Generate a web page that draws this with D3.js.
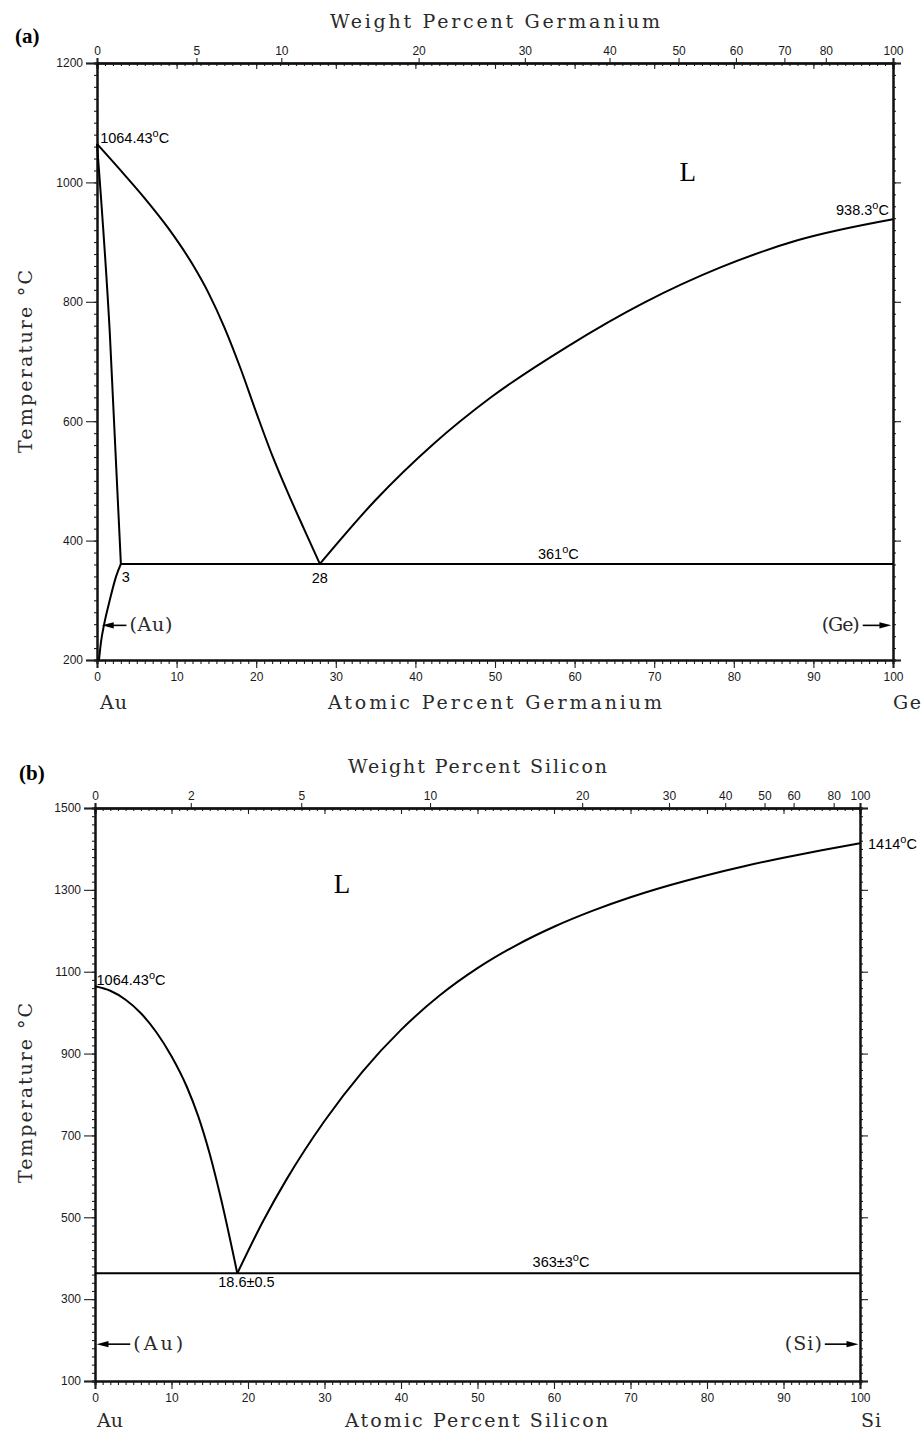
<!DOCTYPE html>
<html>
<head>
<meta charset="utf-8">
<script src="https://cdn.jsdelivr.net/npm/d3@7"></script>
<style>
  body { margin: 0; background: #fff; }
  svg { display: block; }
  .tick text { font-family: "Liberation Sans", Arial, sans-serif; font-size: 12px; fill: #1a1a1a; }
  .title { font-family: "DejaVu Serif", serif; font-size: 19px; fill: #2a2a2a; }
  .note { font-family: "Liberation Sans", Arial, sans-serif; font-size: 14.5px; fill: #000; }
</style>
</head>
<body>
<div id="chart"></div>
<script>
// Atomic masses used to place the weight-percent ticks
const massAu = 196.967, massGe = 72.63, massSi = 28.086;

// Tick labels
const atTicks = [0, 10, 20, 30, 40, 50, 60, 70, 80, 90, 100];
const geWtTicks = [0, 5, 10, 20, 30, 40, 50, 60, 70, 80, 100];
const siWtTicks = [0, 2, 5, 10, 20, 30, 40, 50, 60, 80, 100];
const geTempTicks = [200, 400, 600, 800, 1000, 1200];
const siTempTicks = [100, 300, 500, 700, 900, 1100, 1300, 1500];

// (a) Au-Ge lines: [at.% Ge, °C]
const geLiqAu = [[0, 1064.43], [3, 1019.6], [6, 973.3], [9, 922.5], [12, 862.8], [14, 815], [16, 757.2], [18, 689.5], [20, 614.8], [22, 543.1], [24, 479.4], [26, 419.7], [28, 361]];
const geSolidus = [[0, 1064.43], [1.6, 750], [3, 361]];
const geSolvus = [[0.25, 200], [0.5, 230], [0.9, 260], [1.6, 300], [2.4, 340], [3, 361]];
const geLiqGe = [[28, 361], [35, 468], [42.2, 561], [49.5, 640], [59.1, 725], [68.8, 799], [78.4, 858], [88, 903], [100, 938.3]];
const geEutectic = [[3, 361], [100, 361]];

// (b) Au-Si lines: [at.% Si, °C]
const siLiqAu = [[0, 1064.43], [2, 1053.4], [4, 1031.5], [6, 998.6], [8, 952.6], [10, 893.4], [12, 818.9], [13.5, 746.5], [15, 654.4], [16.5, 542.6], [18.6, 363]];
const siLiqSi = [[18.6, 363], [22, 491.5], [25, 591.4], [30, 735.3], [35, 856.7], [40, 957.9], [45, 1041.1], [50, 1108.6], [55, 1163.9], [60, 1209.8], [65, 1248.5], [70, 1281.8], [75, 1310.6], [80, 1335.8], [85, 1358.3], [90, 1378.5], [95, 1396.9], [100, 1414]];
const siEutectic = [[0, 363], [100, 363]];

const svg = d3.select("#chart")
  .append("svg")
  .attr("width", 921)
  .attr("height", 1431);

const toAt = (w, m) => 100 * (w / m) / (w / m + (100 - w) / massAu);

const drawPanel = (p) => {
  const x = d3.scaleLinear().domain([0, 100]).range([p.left, p.right]);
  const y = d3.scaleLinear().domain(p.tDomain).range([p.bottom, p.top]);
  const g = svg.append("g");

  // bottom axis
  g.append("g").attr("transform", `translate(0,${p.bottom})`)
    .call(d3.axisBottom(x).tickValues(d3.range(0, 101, 1)).tickSize(4).tickFormat(""));
  g.append("g").attr("transform", `translate(0,${p.bottom})`)
    .call(d3.axisBottom(x).tickValues(atTicks).tickSize(8).tickPadding(4).tickFormat(d3.format("d")));

  // top axis: at.% ticks inside, wt.% ticks outside
  g.append("g").attr("transform", `translate(0,${p.top})`)
    .call(d3.axisBottom(x).tickValues(d3.range(0, 101, 1)).tickSize(3).tickFormat(""));
  g.append("g").attr("transform", `translate(0,${p.top})`)
    .call(d3.axisBottom(x).tickValues(atTicks).tickSize(6).tickFormat(""));
  g.append("g").attr("transform", `translate(0,${p.top})`)
    .call(d3.axisTop(x).tickValues(p.wtTicks.map(w => toAt(w, p.mass))).tickSize(5).tickPadding(3)
      .tickFormat((d, i) => p.wtTicks[i]));

  // left / right axes
  const minorT = d3.range(p.tDomain[0], p.tDomain[1] + 1, 20);
  g.append("g").attr("transform", `translate(${p.left},0)`)
    .call(d3.axisLeft(y).tickValues(minorT).tickSize(3).tickFormat(""));
  g.append("g").attr("transform", `translate(${p.left},0)`)
    .call(d3.axisLeft(y).tickValues(p.tTicks).tickSize(11).tickPadding(3).tickFormat(d3.format("d")));
  g.append("g").attr("transform", `translate(${p.right},0)`)
    .call(d3.axisRight(y).tickValues(minorT).tickSize(3).tickFormat(""));
  g.append("g").attr("transform", `translate(${p.right},0)`)
    .call(d3.axisRight(y).tickValues(p.tTicks).tickSize(8).tickFormat(""));

  g.selectAll(".domain").attr("stroke", "#111").attr("stroke-width", 2);
  g.selectAll(".tick line").attr("stroke", "#222").attr("stroke-width", 1.1);

  // phase boundaries
  const line = d3.line().x(d => x(d[0])).y(d => y(d[1])).curve(d3.curveMonotoneX);
  g.selectAll("path.phase")
    .data(p.lines)
    .join("path")
      .attr("class", "phase")
      .attr("d", line)
      .attr("fill", "none")
      .attr("stroke", "#000")
      .attr("stroke-width", 2);

  // titles
  const spaced = (sel, x0, x1) => sel.attr("textLength", x1 - x0).attr("lengthAdjust", "spacing");
  spaced(g.append("text").attr("class", "title")
    .attr("x", p.topTitle.x0).attr("y", p.topTitle.y)
    .text(p.topTitle.text), p.topTitle.x0, p.topTitle.x1);
  spaced(g.append("text").attr("class", "title")
    .attr("x", p.botTitle.x0).attr("y", p.botTitle.y)
    .text(p.botTitle.text), p.botTitle.x0, p.botTitle.x1);
  spaced(g.append("text").attr("class", "title")
    .attr("transform", `translate(${p.yTitle.x},${p.yTitle.y1}) rotate(-90)`)
    .text("Temperature °C"), p.yTitle.y0, p.yTitle.y1);
  p.elements.forEach(e => {
    spaced(g.append("text").attr("class", "title")
      .attr("x", e.x).attr("y", p.botTitle.y)
      .text(e.text), 0, e.w);
  });

  // panel letter
  g.append("text")
    .attr("x", p.letter.x).attr("y", p.letter.y)
    .attr("font-family", "Liberation Serif, serif").attr("font-weight", "bold")
    .attr("font-size", 21)
    .text(p.letter.text);

  // L label
  g.append("text")
    .attr("x", x(p.L[0])).attr("y", y(p.L[1]))
    .attr("text-anchor", "middle")
    .attr("font-family", "Liberation Serif, serif").attr("font-size", 27)
    .text("L");

  // temperature / composition notes
  p.notes.forEach(n => {
    const t = g.append("text").attr("class", "note")
      .attr("x", x(n.at) + (n.dx || 0)).attr("y", y(n.t) + (n.dy || 0))
      .attr("text-anchor", n.anchor || "start");
    t.append("tspan").text(n.text);
    if (n.deg) {
      t.append("tspan").attr("font-size", 11).attr("dy", -6).text("o");
      t.append("tspan").attr("dy", 6).text(n.deg);
    }
  });

  // phase arrows
  p.arrows.forEach(a => {
    const ya = y(a.t);
    const x0 = x(a.from), x1 = x(a.to);
    const dir = Math.sign(x1 - x0);
    g.append("line").attr("x1", x0).attr("x2", x1 - dir * 6).attr("y1", ya).attr("y2", ya)
      .attr("stroke", "#000").attr("stroke-width", 1.6);
    g.append("path")
      .attr("d", `M${x1},${ya} L${x1 - dir * 12},${ya - 3.2} L${x1 - dir * 12},${ya + 3.2} Z`)
      .attr("fill", "#000");
    const tx = dir < 0 ? x0 + 3 : x0 - 3;
    g.append("text").attr("class", "title")
      .attr("x", dir < 0 ? tx : tx - a.w).attr("y", ya + 5.5)
      .attr("font-size", a.size)
      .attr("textLength", a.w).attr("lengthAdjust", "spacing")
      .text(a.label);
  });
};

drawPanel({
  left: 97, right: 893, top: 63, bottom: 660,
  tDomain: [200, 1200], tTicks: geTempTicks,
  wtTicks: geWtTicks, mass: massGe,
  lines: [geLiqAu, geSolidus, geSolvus, geLiqGe, geEutectic],
  topTitle: { text: "Weight Percent Germanium", x0: 330, x1: 660, y: 28 },
  botTitle: { text: "Atomic Percent Germanium", x0: 328, x1: 662, y: 709 },
  yTitle: { x: 32, y0: 270, y1: 453 },
  elements: [{ text: "Au", x: 100, w: 27 }, { text: "Ge", x: 893, w: 28 }],
  letter: { text: "(a)", x: 15, y: 43 },
  L: [74.2, 1002],
  notes: [
    { text: "1064.43", deg: "C", at: 0.4, t: 1064.43, dy: -1 },
    { text: "938.3", deg: "C", at: 100, t: 938.3, dy: -4, dx: -57 },
    { text: "361", deg: "C", at: 55.4, t: 361, dy: -5 },
    { text: "3", at: 3.1, t: 361, dy: 18 },
    { text: "28", at: 28, t: 361, dy: 19, anchor: "middle" }
  ],
  arrows: [
    { label: "(Au)", from: 3.7, to: 0.6, t: 258, w: 43, size: 16 },
    { label: "(Ge)", from: 96.2, to: 99.8, t: 258, w: 38, size: 16 }
  ]
});

drawPanel({
  left: 95, right: 860, top: 808, bottom: 1381,
  tDomain: [100, 1500], tTicks: siTempTicks,
  wtTicks: siWtTicks, mass: massSi,
  lines: [siLiqAu, siLiqSi, siEutectic],
  topTitle: { text: "Weight Percent Silicon", x0: 348, x1: 607, y: 773 },
  botTitle: { text: "Atomic Percent Silicon", x0: 345, x1: 608, y: 1427 },
  yTitle: { x: 32, y0: 1003, y1: 1183 },
  elements: [{ text: "Au", x: 97, w: 26 }, { text: "Si", x: 861, w: 20 }],
  letter: { text: "(b)", x: 19, y: 780 },
  L: [32.3, 1292],
  notes: [
    { text: "1064.43", deg: "C", at: 0.2, t: 1064.43, dy: -1 },
    { text: "1414", deg: "C", at: 100, t: 1414, dx: 8, dy: 6 },
    { text: "363±3", deg: "C", at: 57.2, t: 363, dy: -6 },
    { text: "18.6±0.5", at: 19.8, t: 363, dy: 14, anchor: "middle" }
  ],
  arrows: [
    { label: "(Au)", from: 4.6, to: 0.2, t: 190, w: 50, size: 18 },
    { label: "(Si)", from: 95.4, to: 99.8, t: 190, w: 37, size: 18 }
  ]
});
</script>
</body>
</html>
